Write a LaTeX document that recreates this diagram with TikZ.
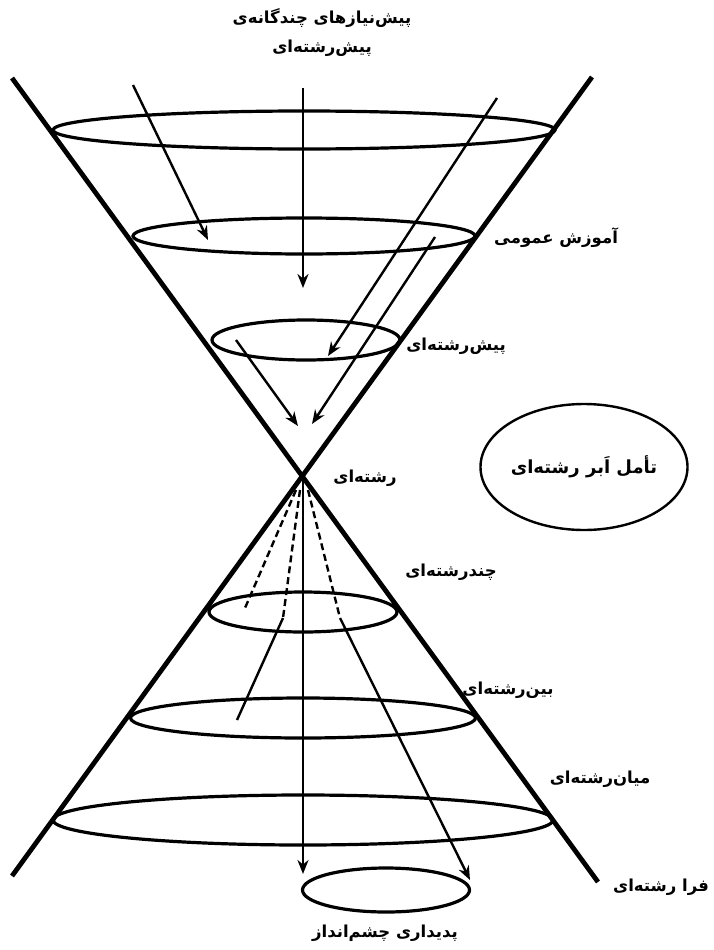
\documentclass[tikz,border=0pt]{standalone}
\usepackage{fontspec}
\newfontfamily\fa[Script=Arabic]{DejaVu Sans}
\TeXXeTstate=1
\usetikzlibrary{positioning,arrows.meta,shapes.geometric}

\begin{document}
\begin{tikzpicture}[x=1pt, y=-1pt, every node/.style={font=\fa\bfseries\fontsize{16.5}{30}\selectfont, align=center},
  anillo/.style={draw, ellipse, line width=3.2pt, inner sep=0pt},
  eje/.style={line width=4.8pt},
  flecha/.style={-{Stealth[length=14pt, width=11pt]}, line width=2.4pt},
  traza/.style={line width=2.4pt},
  rayas/.style={line width=2.4pt, dash pattern=on 7pt off 4pt}]
\useasboundingbox (0,0) rectangle (714,950);
% conos
\coordinate (c1a) at (12,78); \coordinate (c1b) at (598,882);
\coordinate (c2a) at (592,77); \coordinate (c2b) at (12,876);
\draw[eje] (c1a) -- (c1b);
\draw[eje] (c2a) -- (c2b);
% anillos
\node[anillo, minimum width=502pt, minimum height=38pt] (r1) at (304,130) {};
\node[anillo, minimum width=342pt, minimum height=36pt] (r2) at (304,236) {};
\node[anillo, minimum width=188pt, minimum height=40pt] (r3) at (306,340) {};
\node[anillo, minimum width=188pt, minimum height=40pt] (r4) at (303,612) {};
\node[anillo, minimum width=345pt, minimum height=40pt] (r5) at (303,718) {};
\node[anillo, minimum width=500pt, minimum height=50pt] (r6) at (303,820) {};
\node[anillo, minimum width=167pt, minimum height=44pt] (r7) at (386,890) {};
% flechas de arriba
\coordinate (a1) at (133,85);  \coordinate (b1) at (208,240);
\coordinate (a2) at (303,88);  \coordinate (b2) at (303,288);
\coordinate (a3) at (497,98);  \coordinate (b3) at (328,356);
\coordinate (a4) at (435,237); \coordinate (b4) at (312,424);
\coordinate (a5) at (236,340); \coordinate (b5) at (298,426);
\draw[flecha] (a1) -- (b1); \draw[flecha] (a2) -- (b2); \draw[flecha] (a3) -- (b3);
\draw[flecha] (a4) -- (b4); \draw[flecha] (a5) -- (b5);
% flechas de abajo
\coordinate (x) at (303,478); \coordinate (fin) at (303,874);
\coordinate (d1) at (308,490); \coordinate (d1m) at (340,618); \coordinate (d1f) at (470,880);
\coordinate (d2) at (300,490); \coordinate (d2m) at (283,618); \coordinate (d2f) at (237,720);
\coordinate (d3) at (296,490); \coordinate (d3f) at (245,608);
\draw[flecha] (x) -- (fin);
\draw[rayas] (d1) -- (d1m); \draw[flecha] (d1m) -- (d1f);
\draw[rayas] (d2) -- (d2m); \draw[traza] (d2m) -- (d2f);
\draw[rayas] (d3) -- (d3f);
% textos
\node (tit1) at (322,18) {\beginR پیش‌نیازهای چندگانه‌ی\endR};
\node (tit2) at (322,48) {\beginR پیش‌رشته‌ای\endR};
\node (t2) at (556,238) {\beginR آموزش عمومی\endR};
\node (t3) at (456,346) {\beginR پیش‌رشته‌ای\endR};
\node (t4) at (365,478) {\beginR رشته‌ای\endR};
\node[draw, ellipse, line width=2.4pt, minimum width=202pt, minimum height=126pt, inner sep=0pt, font=\fa\bfseries\fontsize{18}{22}\selectfont] (tam) at (584,467) {\beginR تأمل اَبر رشته‌ای\endR};
\node (t5) at (451,572) {\beginR چندرشته‌ای\endR};
\node (t6) at (508,690) {\beginR بین‌رشته‌ای\endR};
\node (t7) at (600,779) {\beginR میان‌رشته‌ای\endR};
\node (t8) at (661,887) {\beginR فرا رشته‌ای\endR};
\node (t9) at (385,933) {\beginR پدیداری چشم‌انداز\endR};
\end{tikzpicture}
\end{document}
